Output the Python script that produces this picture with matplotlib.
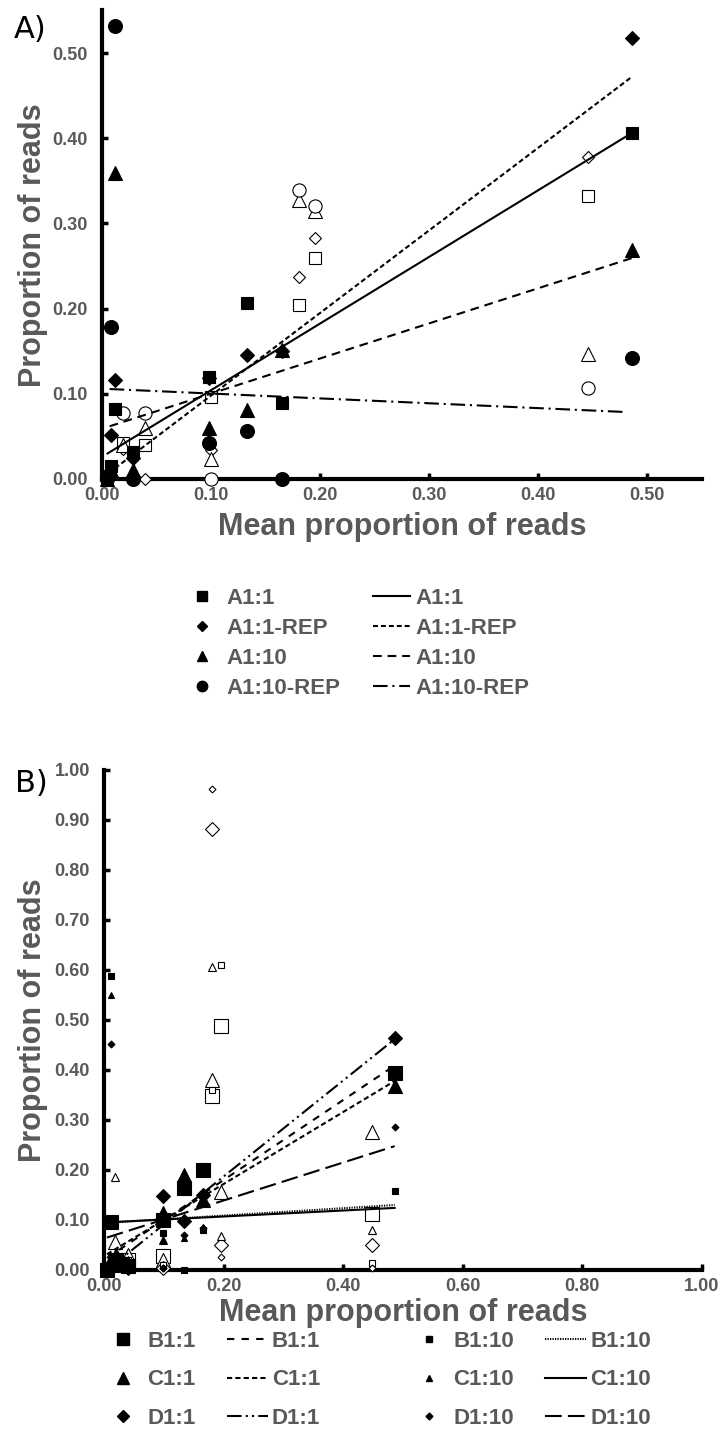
import matplotlib
matplotlib.use("Agg")
import matplotlib.pyplot as plt
from matplotlib.lines import Line2D

# ---------------- Panel A data ----------------
a_x = [0.005, 0.008, 0.012, 0.028, 0.098, 0.133, 0.165, 0.486]
a_11 = [0.003, 0.015, 0.082, 0.032, 0.120, 0.207, 0.089, 0.406]
a_11_rep = [0.002, 0.052, 0.116, 0.025, 0.118, 0.145, 0.150, 0.518]
a_110 = [0.000, 0.010, 0.359, 0.011, 0.060, 0.081, 0.151, 0.269]
a_110_rep = [0.000, 0.178, 0.532, 0.000, 0.042, 0.056, 0.000, 0.142]

# open symbols (not in legend)
ao_x = [0.019, 0.039, 0.100, 0.181, 0.195, 0.446]
ao_sq = [0.042, 0.040, 0.096, 0.204, 0.259, 0.332]
ao_di = [0.035, 0.000, 0.034, 0.237, 0.283, 0.378]
ao_tr = [0.040, 0.060, 0.024, 0.328, 0.314, 0.147]
ao_ci = [0.078, 0.078, 0.000, 0.339, 0.321, 0.107]

# linear trend lines
a_fit_names = ["A1:1", "A1:1-REP", "A1:10", "A1:10-REP"]
a_fit_slope = [0.782, 0.969, 0.412, -0.057]
a_fit_icpt = [0.026, 0.001, 0.059, 0.106]
a_fit_x0 = [0.005, 0.012, 0.007, 0.007]
a_fit_x1 = [0.486, 0.486, 0.486, 0.481]

# ---------------- Panel B data ----------------
b_x = [0.005, 0.012, 0.020, 0.028, 0.040, 0.099, 0.134, 0.165, 0.486]
b_b11 = [0.000, 0.096, 0.020, 0.010, 0.008, 0.100, 0.165, 0.200, 0.395]
b_c11 = [0.005, 0.020, 0.030, 0.015, 0.010, 0.114, 0.190, 0.140, 0.368]
b_d11 = [0.002, 0.010, 0.015, 0.020, 0.005, 0.148, 0.098, 0.150, 0.465]
b_b110 = [0.000, 0.588, 0.010, 0.005, 0.012, 0.074, 0.000, 0.080, 0.158]
b_c110 = [0.002, 0.550, 0.015, 0.010, 0.006, 0.060, 0.065, 0.086, 0.370]
b_d110 = [0.001, 0.452, 0.005, 0.010, 0.004, 0.005, 0.070, 0.085, 0.286]

bo_x = [0.018, 0.040, 0.099, 0.181, 0.196, 0.448]
bo_sq_big = [0.020, 0.020, 0.028, 0.348, 0.488, 0.113]
bo_tr_big = [0.056, 0.030, 0.020, 0.380, 0.156, 0.276]
bo_di_big = [0.010, 0.010, 0.005, 0.882, 0.050, 0.050]
bo_sq_small = [0.010, 0.020, 0.010, 0.360, 0.610, 0.015]
bo_tr_small = [0.186, 0.020, 0.060, 0.606, 0.068, 0.080]
bo_di_small = [0.010, 0.010, 0.005, 0.962, 0.026, 0.005]

b_fit_names = ["B1:1", "C1:1", "D1:1", "B1:10", "C1:10", "D1:10"]
b_fit_slope = [0.80, 0.72, 0.96, 0.074, 0.060, 0.38]
b_fit_icpt = [0.020, 0.028, -0.005, 0.094, 0.095, 0.063]
b_fit_x0 = [0.005, 0.005, 0.005, 0.005, 0.005, 0.005]
b_fit_x1 = [0.486, 0.486, 0.486, 0.486, 0.486, 0.486]

a_xticks = [0.0, 0.1, 0.2, 0.3, 0.4, 0.5]
a_yticks = [0.0, 0.1, 0.2, 0.3, 0.4, 0.5]
b_xticks = [0.0, 0.2, 0.4, 0.6, 0.8, 1.0]
b_yticks = [0.0, 0.1, 0.2, 0.3, 0.4, 0.5, 0.6, 0.7, 0.8, 0.9, 1.0]

plt.rcParams['font.family'] = ['Liberation Sans', 'DejaVu Sans']
GRAY = '#595959'
W, H = 721, 1456

fig = plt.figure(figsize=(W / 100, H / 100), dpi=100)


def add_axes_px(left, right, top, bottom):
    return fig.add_axes([left / W, 1 - bottom / H, (right - left) / W, (bottom - top) / H])


def style(ax, xticks, yticks, xlim, ylim):
    ax.set_xlim(*xlim)
    ax.set_ylim(*ylim)
    for s in ['top', 'right']:
        ax.spines[s].set_visible(False)
    for s in ['left', 'bottom']:
        ax.spines[s].set_linewidth(3)
    ax.set_xticks(xticks, [f"{t:.2f}" for t in xticks], fontweight='bold')
    ax.set_yticks(yticks, [f"{t:.2f}" for t in yticks], fontweight='bold')
    ax.tick_params(direction='in', length=4, width=2.5, labelcolor=GRAY, labelsize=13)
    ax.tick_params(axis='y', pad=10)
    ax.tick_params(axis='x', pad=6)
    ax.set_xlabel("Mean proportion of reads", fontsize=22, fontweight='bold', color=GRAY, va='center')
    ax.set_ylabel("Proportion of reads", fontsize=22, fontweight='bold', color=GRAY, va='center')


def pts(ax, x, y, marker, ms, filled, mew=0.8):
    ax.plot(x, y, ls='none', marker=marker, markersize=ms,
            markerfacecolor='black' if filled else 'white',
            markeredgecolor='black', markeredgewidth=mew, clip_on=False, zorder=3)


# ---------------- Panel A ----------------
axA = add_axes_px(102, 102 + 0.55 * 1090, 479 - 0.55 * 852, 479)
style(axA, a_xticks, a_yticks, (0, 0.55), (0, 0.55))

pts(axA, ao_x, ao_sq, 's', 9, False)
pts(axA, ao_x, ao_di, 'D', 6.5, False)
pts(axA, ao_x, ao_tr, '^', 9.5, False)
pts(axA, ao_x, ao_ci, 'o', 9.5, False)
pts(axA, a_x, a_11, 's', 9, True)
pts(axA, a_x, a_11_rep, 'D', 7.5, True)
pts(axA, a_x, a_110, '^', 10, True)
pts(axA, a_x, a_110_rep, 'o', 10, True)

a_styles = ['-', (0, (2.4, 1.4)), (0, (4.2, 2.8)), (0, (7, 2.3, 1, 2.3))]
for name, m, b, x0, x1, ls in zip(a_fit_names, a_fit_slope, a_fit_icpt, a_fit_x0, a_fit_x1, a_styles):
    axA.plot([x0, x1], [b + m * x0, b + m * x1], color='black', lw=1.5, ls=ls, zorder=4)

axA.xaxis.set_label_coords(0.5, (479 - 527) / (0.55 * 852))
axA.yaxis.set_label_coords((33 - 102) / (0.55 * 1090), 0.5)

fig.text(14 / W, 1 - 30 / H, "A)", fontsize=22, family='DejaVu Sans', va='center', ha='left')

leg_font = {'weight': 'bold', 'size': 16}
a_handles = [
    Line2D([], [], ls='none', marker='s', ms=7, color='black'),
    Line2D([], [], ls='none', marker='D', ms=5.5, color='black'),
    Line2D([], [], ls='none', marker='^', ms=7.5, color='black'),
    Line2D([], [], ls='none', marker='o', ms=7.5, color='black'),
]
a_handles += [Line2D([], [], color='black', lw=1.5, ls=ls) for ls in a_styles]
a_labels = a_fit_names + a_fit_names
fig.legend(a_handles, a_labels, ncol=2, loc='upper left', bbox_to_anchor=(183 / W, 1 - 588 / H),
           frameon=False, handlelength=1.7, handletextpad=0.25, columnspacing=1.45,
           labelspacing=0.4, borderpad=0, borderaxespad=0, prop=leg_font, labelcolor=GRAY)

# ---------------- Panel B ----------------
axB = add_axes_px(104, 702, 770, 1270)
style(axB, b_xticks, b_yticks, (0, 1.0), (0, 1.0))

pts(axB, bo_x, bo_sq_big, 's', 9.5, False)
pts(axB, bo_x, bo_tr_big, '^', 10, False)
pts(axB, bo_x, bo_di_big, 'D', 7, False)
pts(axB, bo_x, bo_sq_small, 's', 5, False)
pts(axB, bo_x, bo_tr_small, '^', 5.5, False)
pts(axB, bo_x, bo_di_small, 'D', 3.5, False)
pts(axB, b_x, b_b11, 's', 10, True)
pts(axB, b_x, b_c11, '^', 10.5, True)
pts(axB, b_x, b_d11, 'D', 7.5, True)
pts(axB, b_x, b_b110, 's', 4.5, True)
pts(axB, b_x, b_c110, '^', 5, True)
pts(axB, b_x, b_d110, 'D', 3.5, True)

b_styles = [(0, (3.5, 3.5)), (0, (2.5, 1.5)), (0, (7, 2, 1, 2, 1, 2)),
            (0, (0.6, 0.6)), '-', (0, (8, 3))]
for name, m, b, x0, x1, ls in zip(b_fit_names, b_fit_slope, b_fit_icpt, b_fit_x0, b_fit_x1, b_styles):
    axB.plot([x0, x1], [b + m * x0, b + m * x1], color='black', lw=1.5, ls=ls, zorder=4)

axB.xaxis.set_label_coords(0.5, (1270 - 1313) / 500)
axB.yaxis.set_label_coords((33 - 104) / 598, 0.5)

fig.text(15 / W, 1 - 784 / H, "B)", fontsize=22, family='DejaVu Sans', va='center', ha='left')

big = [('s', 8.5), ('^', 9), ('D', 6.5)]
small = [('s', 4.5), ('^', 5), ('D', 3.5)]
for group, names, line_styles, x_anchor in [
        (big, b_fit_names[:3], b_styles[:3], 102),
        (small, b_fit_names[3:], b_styles[3:], 408)]:
    handles = [Line2D([], [], ls='none', marker=mk, ms=ms, color='black') for mk, ms in group]
    handles += [Line2D([], [], color='black', lw=1.5, ls=ls) for ls in line_styles]
    fig.legend(handles, names + names, ncol=2, loc='upper left',
               bbox_to_anchor=(x_anchor / W, 1 - 1331 / H),
               frameon=False, handlelength=1.85, handletextpad=0.18, columnspacing=1.4,
               labelspacing=0.78, borderpad=0, borderaxespad=0, prop=leg_font, labelcolor=GRAY)

fig.savefig("out.png", dpi=100)
